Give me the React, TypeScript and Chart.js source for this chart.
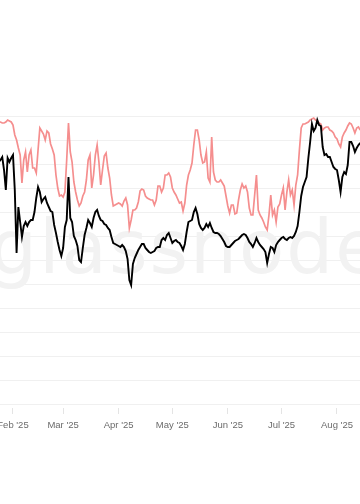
import React, { useEffect, useRef } from "react";
import { Chart, registerables } from "chart.js";

Chart.register(...registerables);

// Day-of-year (2025) of the first sample; one sample per day after it.
const FIRST_DAY = 23;

// Black series (index units)
const blackSeries = [
  242, 244, 247, 234, 214, 246, 242, 246, 249, 214, 151, 197, 182, 167, 178, 182, 178, 182, 184, 184,
  192, 206, 217, 212, 202, 205, 207, 201, 197, 193, 192, 179, 171, 162, 154, 148, 156, 177, 184, 227,
  186, 182, 168, 164, 158, 144, 142, 156, 169, 176, 184, 181, 177, 186, 192, 194, 188, 184, 183, 180,
  179, 176, 174, 167, 161, 160, 159, 158, 157, 159, 157, 153, 145, 124, 119, 140, 146, 150, 154, 157,
  160, 160, 156, 154, 152, 151, 152, 153, 156, 157, 157, 164, 166, 164, 169, 171, 166, 161, 163, 164,
  162, 161, 158, 154, 160, 172, 182, 183, 184, 192, 196, 190, 180, 176, 174, 176, 180, 177, 181, 176,
  172, 171, 171, 170, 168, 165, 162, 158, 157, 157, 159, 161, 163, 164, 165, 167, 169, 170, 169, 166,
  162, 160, 157, 161, 166, 162, 159, 157, 155, 152, 141, 150, 157, 156, 152, 159, 162, 164, 166, 167,
  165, 164, 166, 167, 166, 168, 172, 178, 192, 208, 217, 222, 227, 246, 262, 280, 273, 276, 284, 279,
  278, 257, 249, 250, 247, 247, 242, 237, 235, 234, 224, 212, 227, 232, 230, 239, 262, 262, 258, 252,
  256, 259, 261,
];

// Pink series (index units)
const pinkSeries = [
  282, 282, 281, 281, 282, 284, 283, 282, 279, 269, 264, 256, 249, 221, 244, 252, 232, 249, 254, 236,
  236, 231, 254, 276, 273, 270, 264, 273, 271, 260, 255, 249, 229, 216, 208, 209, 207, 212, 244, 281,
  252, 242, 222, 212, 204, 198, 201, 208, 212, 224, 244, 249, 216, 229, 249, 259, 242, 219, 234, 248,
  251, 236, 226, 209, 198, 199, 200, 201, 200, 198, 203, 206, 199, 176, 184, 194, 194, 196, 202, 213,
  215, 214, 208, 206, 205, 204, 204, 199, 204, 218, 218, 212, 216, 229, 229, 231, 227, 216, 212, 209,
  205, 201, 202, 193, 201, 219, 229, 234, 241, 259, 274, 274, 264, 249, 241, 242, 252, 226, 222, 267,
  232, 224, 222, 222, 224, 221, 218, 208, 198, 191, 199, 199, 190, 191, 204, 214, 220, 216, 218, 212,
  196, 189, 189, 209, 229, 194, 189, 186, 182, 177, 174, 189, 209, 189, 194, 182, 197, 200, 209, 216,
  194, 212, 224, 209, 214, 199, 219, 229, 254, 276, 280, 280, 281, 282, 284, 285, 286, 284, 283, 281,
  280, 274, 276, 277, 277, 274, 273, 271, 267, 265, 260, 257, 267, 271, 274, 278, 281, 280, 276, 271,
  276, 277, 274,
];

// Month tick positions (day-of-year 2025) and labels
const tickDays = [31, 59, 90, 120, 151, 181, 212];
const tickLabels = ["Feb '25", "Mar '25", "Apr '25", "May '25", "Jun '25", "Jul '25", "Aug '25"];

// Visible window (day-of-year)
const X_MIN = 23.74;
const X_MAX = 224.85;

const watermarkPlugin = {
  id: "watermark",
  beforeDatasetsDraw(chart: any) {
    const { ctx } = chart;
    ctx.save();
    ctx.font = '74px "DejaVu Sans"';
    (ctx as any).letterSpacing = "2px";
    ctx.fillStyle = "#f2f2f2";
    ctx.textBaseline = "alphabetic";
    ctx.textAlign = "left";
    ctx.fillText("glassnode", -10, 273);
    ctx.restore();
  },
};

export default function App() {
  const ref = useRef<HTMLCanvasElement | null>(null);

  useEffect(() => {
    if (!ref.current) return;
    const black = blackSeries.map((v, i) => ({ x: FIRST_DAY + i, y: v }));
    const pink = pinkSeries.map((v, i) => ({ x: FIRST_DAY + i, y: v }));
    const chart = new Chart(ref.current, {
      type: "line",
      data: {
        datasets: [
          {
            data: black,
            borderColor: "#000000",
            borderWidth: 1.9,
            pointRadius: 0,
            tension: 0,
            clip: 8,
          },
          {
            data: pink,
            borderColor: "#f58e8e",
            borderWidth: 1.7,
            pointRadius: 0,
            tension: 0,
            clip: 8,
          },
        ],
      },
      options: {
        animation: false,
        responsive: true,
        maintainAspectRatio: false,
        layout: { padding: { top: 116, left: 0, right: 0, bottom: 70 } },
        plugins: { legend: { display: false }, tooltip: { enabled: false } },
        scales: {
          x: {
            type: "linear",
            min: X_MIN,
            max: X_MAX,
            afterBuildTicks: (scale: any) => {
              scale.ticks = tickDays.map((d) => ({ value: d }));
            },
            afterFit: (scale: any) => {
              scale.paddingLeft = 0;
              scale.paddingRight = 0;
              scale.height = 30;
            },
            border: { display: false },
            grid: {
              drawOnChartArea: false,
              drawTicks: true,
              tickLength: 10,
              tickColor: "#e4e4e4",
              tickBorderDash: [0, 4, 6, 4],
            },
            ticks: {
              autoSkip: false,
              maxRotation: 0,
              padding: 6,
              color: "#6b6b6b",
              font: { family: '"Liberation Sans", Arial, sans-serif', size: 9.5 },
              callback: (v: any) => {
                const i = tickDays.indexOf(Number(v));
                return i >= 0 ? tickLabels[i] : "";
              },
            },
          },
          y: {
            min: 0,
            max: 288,
            afterFit: (scale: any) => {
              scale.width = 0;
            },
            border: { display: false },
            grid: { color: "#f0f0f0", drawTicks: false, lineWidth: 1 },
            ticks: { display: false, stepSize: 24 },
          },
        },
      },
      plugins: [watermarkPlugin],
    });
    return () => chart.destroy();
  }, []);

  return (
    <div style={{ position: "fixed", left: 0, top: 0, width: 360, height: 504, background: "#fff" }}>
      <canvas ref={ref} />
    </div>
  );
}
